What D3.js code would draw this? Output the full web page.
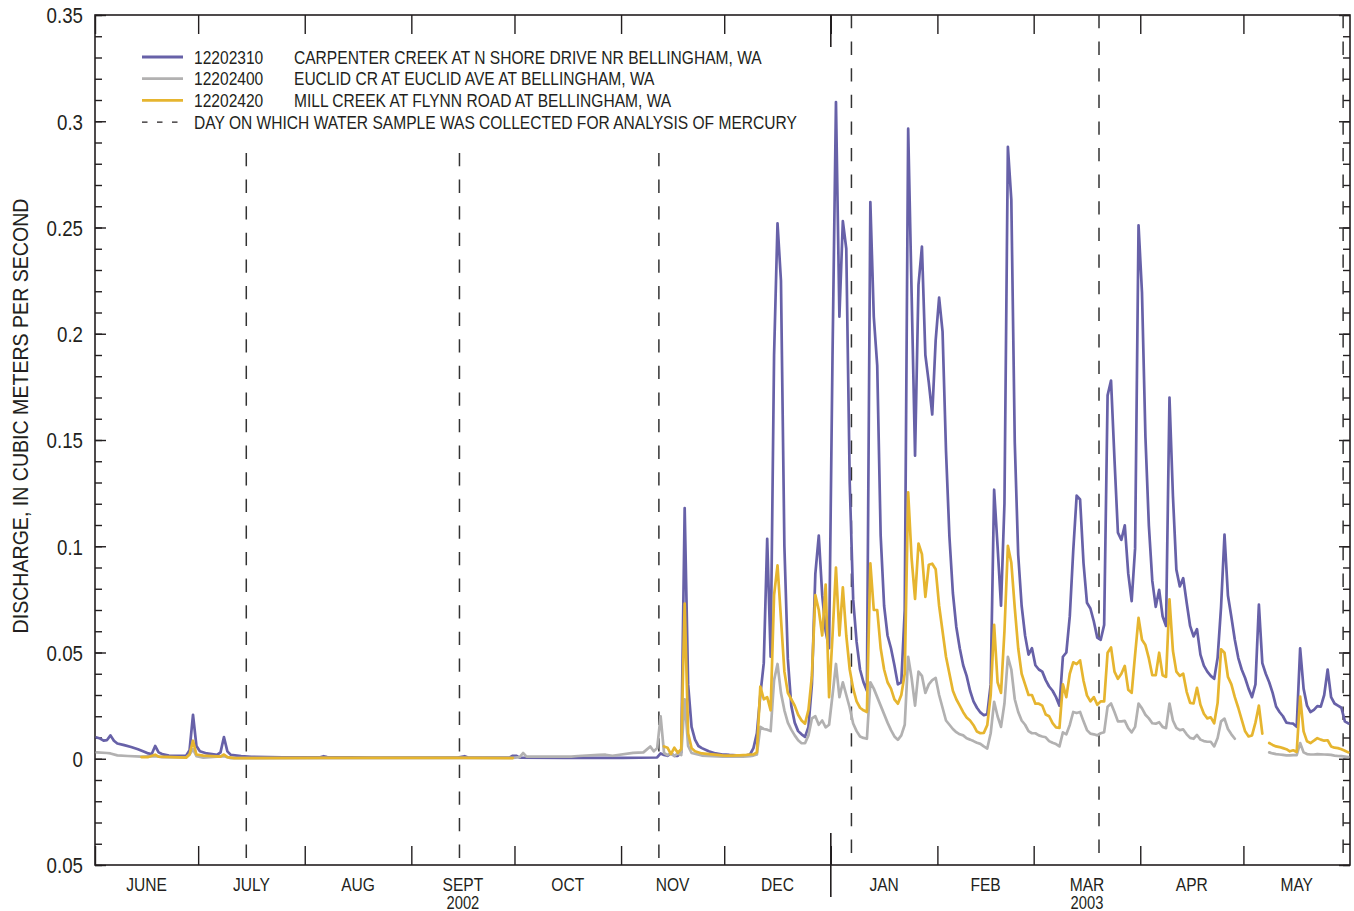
<!DOCTYPE html>
<html>
<head>
<meta charset="utf-8">
<script src="https://cdn.jsdelivr.net/npm/d3@7"></script>
<style>
  body { margin: 0; background: #fff; }
  text { font-family: "Liberation Sans", Arial, sans-serif; fill: #231f20; }
</style>
</head>
<body>
<svg id="chart" width="1354" height="911"></svg>
<script>
// ---- Stations and labels ----
const stationIds = ["12202310", "12202400", "12202420"];
const stationNames = [
  "CARPENTER CREEK AT N SHORE DRIVE NR BELLINGHAM, WA",
  "EUCLID CR AT EUCLID AVE AT BELLINGHAM, WA",
  "MILL CREEK AT FLYNN ROAD AT BELLINGHAM, WA"
];
const stationColors = ["#6761a8", "#b2b1b1", "#e6b52f"];
const sampleLabel = "DAY ON WHICH WATER SAMPLE WAS COLLECTED FOR ANALYSIS OF MERCURY";
const yTitle = "DISCHARGE, IN CUBIC METERS PER SECOND";

const monthLabels = ["JUNE", "JULY", "AUG", "SEPT", "OCT", "NOV", "DEC", "JAN", "FEB", "MAR", "APR", "MAY"];
const yearLabels = [["SEPT", "2002"], ["MAR", "2003"]];
const yTickValues = [-0.05, 0, 0.05, 0.1, 0.15, 0.2, 0.25, 0.3, 0.35];
const yTickLabels = ["0.05", "0", "0.05", "0.1", "0.15", "0.2", "0.25", "0.3", "0.35"];

// Days on which water samples were collected for mercury analysis
const sampleDays = ["2002-07-15", "2002-09-15", "2002-11-12", "2003-01-07", "2003-03-20", "2003-05-30"];

// ---- Daily discharge, m3/s: low-flow season (Jun–Nov, readings) ----
const carpenterDry = [
  ["2002-06-01",0.010],["2002-06-02",0.0095],["2002-06-03",0.0085],["2002-06-04",0.0088],["2002-06-05",0.011],
  ["2002-06-06",0.0085],["2002-06-07",0.0072],["2002-06-09",0.0064],["2002-06-11",0.0055],["2002-06-13",0.0045],
  ["2002-06-15",0.0032],["2002-06-16",0.0025],["2002-06-17",0.0022],["2002-06-18",0.006],["2002-06-19",0.003],
  ["2002-06-20",0.0022],["2002-06-22",0.0015],["2002-06-27",0.0014],["2002-06-28",0.004],["2002-06-29",0.0207],
  ["2002-06-30",0.006],["2002-07-01",0.0035],["2002-07-03",0.0025],["2002-07-06",0.0018],["2002-07-07",0.003],
  ["2002-07-08",0.0102],["2002-07-09",0.0035],["2002-07-10",0.0018],["2002-07-13",0.0012],["2002-07-16",0.0009],
  ["2002-07-25",0.0007],["2002-08-05",0.0007],["2002-08-06",0.0012],["2002-08-07",0.0008],["2002-08-20",0.0006],
  ["2002-09-14",0.0005],["2002-09-16",0.0012],["2002-09-17",0.0006],["2002-09-29",0.0005],["2002-09-30",0.0014],
  ["2002-10-01",0.0014],["2002-10-02",0.0005],["2002-10-15",0.0004],["2002-11-01",0.0004],["2002-11-11",0.0006],
  ["2002-11-12",0.0025],["2002-11-13",0.0018],["2002-11-14",0.0014],["2002-11-15",0.0025],["2002-11-16",0.0014],
  ["2002-11-17",0.0014],["2002-11-18",0.003],["2002-11-19",0.118],["2002-11-20",0.035],["2002-11-21",0.015],
  ["2002-11-22",0.009],["2002-11-23",0.006],["2002-11-24",0.005],["2002-11-26",0.0035],["2002-11-28",0.0025],
  ["2002-11-30",0.002]
];
const euclidDry = [
  ["2002-06-01",0.003],["2002-06-04",0.0027],["2002-06-05",0.0025],["2002-06-07",0.0016],["2002-06-10",0.0013],
  ["2002-06-14",0.001],["2002-06-18",0.0012],["2002-06-20",0.0008],["2002-06-27",0.0006],["2002-06-28",0.002],
  ["2002-06-29",0.0045],["2002-06-30",0.0012],["2002-07-02",0.0005],["2002-07-08",0.0012],["2002-07-10",0.0003],
  ["2002-09-30",0.0004],["2002-10-02",0.0008],["2002-10-03",0.0027],["2002-10-04",0.001],["2002-10-17",0.001],
  ["2002-10-19",0.0013],["2002-10-25",0.0018],["2002-10-27",0.0019],["2002-10-29",0.0014],["2002-11-04",0.0028],
  ["2002-11-07",0.003],["2002-11-09",0.0058],["2002-11-10",0.0035],["2002-11-11",0.005],["2002-11-12",0.020],
  ["2002-11-13",0.0027],["2002-11-14",0.0017],["2002-11-15",0.0027],["2002-11-16",0.0013],["2002-11-17",0.0025],
  ["2002-11-18",0.0017],["2002-11-19",0.028],["2002-11-20",0.006],["2002-11-21",0.0027],["2002-11-24",0.0015],
  ["2002-11-30",0.001]
];
const millDry = [
  ["2002-06-14",0.0008],["2002-06-16",0.0008],["2002-06-18",0.0019],["2002-06-19",0.001],["2002-06-27",0.0005],
  ["2002-06-28",0.002],["2002-06-29",0.0085],["2002-06-30",0.002],["2002-07-02",0.0015],["2002-07-07",0.001],
  ["2002-07-08",0.002],["2002-07-09",0.0008],["2002-07-11",0.0003],["2002-08-06",0.0004],["2002-09-16",0.0004],
  ["2002-09-30",0.0003],["2002-10-01",null],
  ["2002-11-13",0.0058],["2002-11-14",0.0052],["2002-11-15",0.0022],["2002-11-16",0.0052],["2002-11-17",0.0028],
  ["2002-11-18",0.0045],["2002-11-19",0.073],["2002-11-20",0.012],["2002-11-21",0.005],["2002-11-22",0.0035],
  ["2002-11-24",0.0025],["2002-11-30",0.0016]
];

// ---- Daily discharge, m3/s: wet season, one value per day from Dec 1 (null = no record) ----
const wetStart = "2002-12-01";
const carpenterWet = [
  // Dec
  0.002,0.0018,0.0017,0.0016,0.0016,0.0015,0.0016,0.002,0.005,0.012,
  0.030,0.045,0.1035,0.048,0.19,0.252,0.225,0.10,0.047,0.025,
  0.017,0.013,0.0115,0.0103,0.015,0.035,0.087,0.105,0.077,0.060,
  0.052,
  // Jan
  0.19,0.309,0.208,0.253,0.24,0.13,0.075,0.055,0.042,0.036,
  0.032,0.262,0.208,0.185,0.105,0.072,0.058,0.052,0.044,0.035,
  0.036,0.07,0.2965,0.219,0.1426,0.223,0.241,0.19,0.177,0.162,
  0.197,
  // Feb
  0.217,0.201,0.145,0.1045,0.078,0.062,0.052,0.044,0.039,0.032,
  0.027,0.024,0.0218,0.0205,0.021,0.035,0.1266,0.10,0.072,0.12,
  0.288,0.263,0.149,0.096,0.072,0.058,0.049,0.052,
  // Mar
  0.044,0.042,0.041,0.037,0.034,0.032,0.029,0.025,0.048,0.050,
  0.067,0.0977,0.1238,0.122,0.092,0.0734,0.0707,0.0646,0.057,0.056,
  0.063,0.171,0.178,0.141,0.1064,0.103,0.1098,0.0872,0.0742,0.099,
  0.251,
  // Apr
  0.2195,0.1516,0.1098,0.0837,0.0715,0.0795,0.067,0.0625,0.170,0.1238,
  0.089,0.0811,0.085,0.0734,0.0625,0.0576,0.061,0.049,0.0438,0.041,
  0.039,0.0376,0.0475,0.0715,0.1055,0.0768,0.0667,0.056,0.0475,0.042,
  // May
  0.038,0.033,0.029,0.035,0.0725,0.045,0.040,0.036,0.031,0.0246,
  0.022,0.020,0.017,0.0167,0.0165,0.015,0.052,0.033,0.025,0.022,
  0.023,0.0248,0.0245,0.030,0.042,0.029,0.026,0.025,0.024,0.0176,
  0.0166
];
const euclidWet = [
  // Dec
  0.001,0.001,0.001,0.001,0.001,0.001,0.0011,0.0012,0.0015,0.002,
  0.015,0.014,0.0137,0.013,0.037,0.0446,0.031,0.0228,0.017,0.0137,
  0.011,0.0087,0.0073,0.0073,0.011,0.019,0.020,0.016,0.018,0.0148,
  0.016,
  // Jan
  0.030,0.0446,0.029,0.036,0.030,0.024,0.0166,0.013,0.0105,0.0098,
  0.0094,0.036,0.033,0.029,0.025,0.021,0.017,0.0135,0.0105,0.0089,
  0.011,0.016,0.048,0.038,0.025,0.041,0.039,0.031,0.035,0.037,
  0.038,
  // Feb
  0.030,0.024,0.018,0.016,0.014,0.0125,0.0115,0.011,0.0096,0.009,
  0.0083,0.0075,0.007,0.0058,0.0048,0.012,0.0268,0.020,0.015,0.026,
  0.048,0.042,0.028,0.022,0.018,0.016,0.013,0.012,
  // Mar
  0.012,0.011,0.0105,0.0101,0.0083,0.0075,0.0069,0.0058,0.0124,0.0115,
  0.0159,0.022,0.0215,0.022,0.0176,0.0135,0.0118,0.0115,0.011,0.012,
  0.0125,0.0245,0.026,0.022,0.0176,0.0176,0.0178,0.0144,0.0124,0.015,
  0.026,
  // Apr
  0.0237,0.0207,0.019,0.0167,0.0165,0.0172,0.015,0.0144,0.026,0.018,
  0.0145,0.0135,0.0138,0.0115,0.0098,0.0094,0.0112,0.009,0.0083,0.008,
  0.008,0.0058,0.0098,0.0176,0.0189,0.014,0.0115,0.0094,null,null,
  // May
  null,null,null,null,null,null,null,0.003,0.0025,0.0022,
  0.002,0.0018,0.0016,0.0016,0.0017,0.0017,0.0074,0.003,0.0022,0.002,
  0.002,0.0022,0.0021,0.002,0.0019,0.0018,0.0015,0.0013,0.0012,0.001,
  0.0008
];
const millWet = [
  // Dec
  0.0015,0.0015,0.0015,0.0016,0.0016,0.0017,0.0018,0.002,0.002,0.003,
  0.034,0.028,0.029,0.0228,0.077,0.091,0.066,0.041,0.031,0.028,
  0.025,0.0207,0.018,0.0165,0.023,0.039,0.077,0.07,0.058,0.082,
  0.029,
  // Jan
  0.058,0.090,0.058,0.0807,0.058,0.042,0.033,0.027,0.024,0.0228,
  0.022,0.092,0.07,0.07,0.052,0.042,0.036,0.033,0.0279,0.0259,
  0.030,0.04,0.1254,0.0943,0.0752,0.1013,0.0963,0.0762,0.0913,0.0918,
  0.0892,
  // Feb
  0.072,0.060,0.048,0.040,0.032,0.028,0.025,0.0219,0.0194,0.018,
  0.0158,0.0128,0.012,0.0122,0.0158,0.030,0.063,0.036,0.031,0.060,
  0.1002,0.0922,0.071,0.052,0.040,0.035,0.030,0.030,
  // Mar
  0.0259,0.0259,0.025,0.0208,0.020,0.0168,0.0148,0.0145,0.035,0.029,
  0.040,0.0454,0.0445,0.0463,0.0367,0.0298,0.027,0.029,0.0254,0.027,
  0.027,0.0499,0.0524,0.041,0.0376,0.040,0.0437,0.0325,0.031,0.049,
  0.0663,
  // Apr
  0.056,0.0535,0.0472,0.0393,0.0393,0.0499,0.0393,0.0385,0.075,0.0508,
  0.041,0.039,0.040,0.0315,0.0263,0.026,0.0334,0.0254,0.0212,0.019,
  0.0195,0.0167,0.0263,0.0515,0.0499,0.0385,0.035,0.029,0.024,0.0184,
  // May
  0.0129,0.0105,0.011,0.017,0.025,0.0118,null,0.0074,0.0065,0.0058,
  0.0055,0.005,0.0045,0.0035,0.004,0.0032,0.0293,0.0129,0.0082,0.0074,
  0.0085,0.0097,0.009,0.0085,0.0087,0.0058,0.0052,0.005,0.0045,0.0038,
  0.003
];

// ---- Build series ----
const parse = d3.timeParse("%Y-%m-%d");
const noon = t => d3.timeHour.offset(t, 12);
function buildSeries(dry, wet) {
  const pts = dry.map(([d, v]) => ({ t: noon(parse(d)), v }));
  const start = parse(wetStart);
  wet.forEach((v, i) => pts.push({ t: noon(d3.timeDay.offset(start, i)), v }));
  return pts;
}
const series = [
  buildSeries(carpenterDry, carpenterWet),
  buildSeries(euclidDry, euclidWet),
  buildSeries(millDry, millWet)
];

// ---- Layout ----
const plot = { left: 95, right: 1350, top: 15, bottom: 865 };
const ink = "#231f20";
const narrow = 0.82;   // horizontal squeeze giving a condensed sans face
const svg = d3.select("#chart");

// Squeeze text horizontally around its own anchor point
function condense(sel, k) {
  sel.each(function () {
    const t = d3.select(this);
    const tx = +t.attr("x") || 0, ty = +t.attr("y") || 0;
    const prev = t.attr("transform") || "";
    t.attr("x", 0).attr("y", 0)
      .attr("transform", `${prev} translate(${tx},${ty}) scale(${k},1)`.trim());
  });
}

const x = d3.scaleTime()
  .domain([new Date(2002, 5, 1), new Date(2003, 5, 1)])
  .range([plot.left, plot.right]);
const y = d3.scaleLinear()
  .domain([-0.05, 0.35])
  .range([plot.bottom, plot.top]);

// ---- Axes ----
const minorY = d3.range(-5, 36).map(i => i / 100);
const labelOf = v => yTickLabels[yTickValues.findIndex(t => Math.abs(t - v) < 1e-9)];

function styleAxis(g) {
  g.select(".domain").remove();
  g.selectAll(".tick line").attr("stroke", ink).attr("stroke-width", 1.4);
}

svg.append("g").attr("transform", `translate(${plot.left},0)`)
  .call(d3.axisLeft(y).tickValues(minorY).tickSize(-7).tickFormat(""))
  .call(styleAxis);
svg.append("g").attr("transform", `translate(${plot.left},0)`)
  .call(d3.axisLeft(y).tickValues(yTickValues).tickSize(-11).tickPadding(12).tickFormat(labelOf))
  .call(styleAxis)
  .call(g => g.selectAll(".tick text")
    .attr("font-size", 22).attr("dy", "0.36em")
    .attr("font-family", "'Liberation Sans', Arial, sans-serif")
    .attr("fill", ink)
    .call(condense, 0.85));
svg.append("g").attr("transform", `translate(${plot.right},0)`)
  .call(d3.axisRight(y).tickValues(minorY).tickSize(-7).tickFormat(""))
  .call(styleAxis);
svg.append("g").attr("transform", `translate(${plot.right},0)`)
  .call(d3.axisRight(y).tickValues(yTickValues).tickSize(-11).tickFormat(""))
  .call(styleAxis);

const monthStarts = d3.timeMonth.range(x.domain()[0], x.domain()[1]);
svg.append("g").attr("transform", `translate(0,${plot.bottom})`)
  .call(d3.axisBottom(x).tickValues(monthStarts).tickSize(-19).tickFormat(""))
  .call(styleAxis);
svg.append("g").attr("transform", `translate(0,${plot.top})`)
  .call(d3.axisTop(x).tickValues(monthStarts).tickSize(-19).tickFormat(""))
  .call(styleAxis);

// Year divider at Jan 1
const yearStart = new Date(2003, 0, 1);
svg.append("line").attr("x1", x(yearStart)).attr("x2", x(yearStart))
  .attr("y1", plot.bottom - 32).attr("y2", plot.bottom + 32)
  .attr("stroke", ink).attr("stroke-width", 1.6);
svg.append("line").attr("x1", x(yearStart)).attr("x2", x(yearStart))
  .attr("y1", plot.top).attr("y2", plot.top + 32)
  .attr("stroke", ink).attr("stroke-width", 1.6);

// Frame
svg.append("rect")
  .attr("x", plot.left).attr("y", plot.top)
  .attr("width", plot.right - plot.left).attr("height", plot.bottom - plot.top)
  .attr("fill", "none").attr("stroke", ink).attr("stroke-width", 1.6);

// Month labels centered in each month; the year sits under SEPT and MAR
const monthG = svg.append("g");
monthStarts.forEach((m, i) => {
  const mid = new Date((+m + +d3.timeMonth.offset(m, 1)) / 2);
  monthG.append("text")
    .attr("x", x(mid)).attr("y", plot.bottom + 25.5)
    .attr("text-anchor", "middle").attr("font-size", 19)
    .text(monthLabels[i]).call(condense, narrow);
  const yr = yearLabels.find(([lab]) => lab === monthLabels[i]);
  if (yr) {
    monthG.append("text")
      .attr("x", x(mid)).attr("y", plot.bottom + 44)
      .attr("text-anchor", "middle").attr("font-size", 18)
      .text(yr[1]).call(condense, narrow);
  }
});

// Y axis title
svg.append("text")
  .attr("transform", `translate(28,${(plot.top + plot.bottom) / 2 - 24}) rotate(-90)`)
  .attr("text-anchor", "middle").attr("font-size", 22.5)
  .text(yTitle)
  .call(condense, 0.87);

// ---- Legend ----
const legend = { x0: 142, x1: 183, codeX: 194, nameX: 294, top: 57, step: 21.7 };
const lg = svg.append("g");
stationIds.forEach((id, i) => {
  const yy = legend.top + i * legend.step;
  lg.append("line").attr("x1", legend.x0).attr("x2", legend.x1)
    .attr("y1", yy).attr("y2", yy)
    .attr("stroke", stationColors[i]).attr("stroke-width", 2.8);
  lg.append("text").attr("x", legend.codeX).attr("y", yy + 6.6)
    .attr("font-size", 19).text(id).call(condense, narrow);
  lg.append("text").attr("x", legend.nameX).attr("y", yy + 6.6)
    .attr("font-size", 19).text(stationNames[i]).call(condense, narrow);
});
const dashY = legend.top + 3 * legend.step;
lg.append("line").attr("x1", legend.x0).attr("x2", legend.x1 - 5)
  .attr("y1", dashY).attr("y2", dashY)
  .attr("stroke", ink).attr("stroke-width", 1.4).attr("stroke-dasharray", "5.5,9.5");
lg.append("text").attr("x", legend.codeX).attr("y", dashY + 6.6)
  .attr("font-size", 19).text(sampleLabel).call(condense, narrow);

// ---- Sample-day markers ----
const legendRight = 800, belowLegend = 153;
svg.append("g").selectAll("line")
  .data(sampleDays.map(parse))
  .join("line")
  .attr("x1", d => x(d)).attr("x2", d => x(d))
  .attr("y1", d => x(d) < legendRight ? belowLegend : plot.top)
  .attr("y2", plot.bottom - 5)
  .attr("stroke", "#333").attr("stroke-width", 1.5)
  .attr("stroke-dasharray", "13.3,13.3");

// ---- Discharge lines ----
const line = d3.line()
  .defined(d => d.v != null)
  .x(d => x(d.t))
  .y(d => y(d.v));

svg.append("g").selectAll("path")
  .data(series)
  .join("path")
  .attr("d", line)
  .attr("fill", "none")
  .attr("stroke", (d, i) => stationColors[i])
  .attr("stroke-width", 2.7)
  .attr("stroke-linejoin", "round")
  .attr("stroke-linecap", "round");
</script>
</body>
</html>
